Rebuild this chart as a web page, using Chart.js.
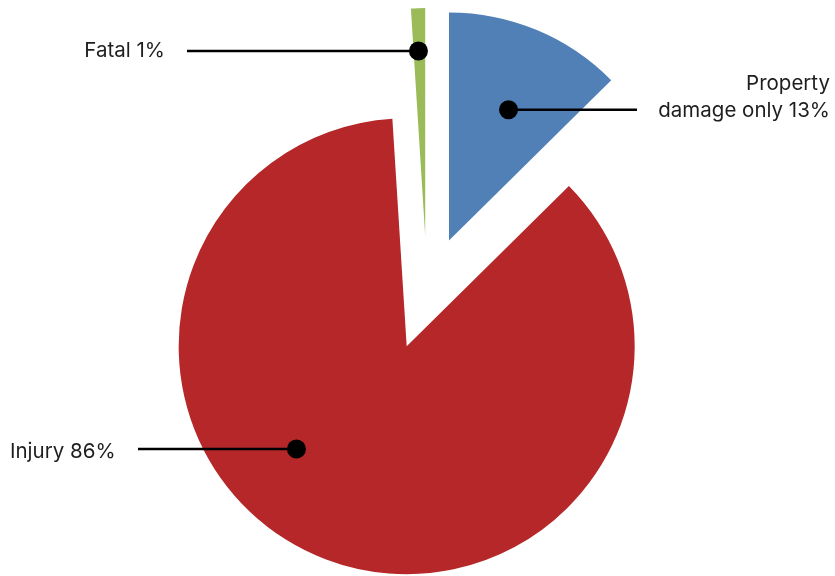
<!DOCTYPE html>
<html>
<head>
<meta charset="utf-8">
<script src="https://cdn.jsdelivr.net/npm/chart.js@4.4.1/dist/chart.umd.min.js"></script>
<style>
  html, body { margin: 0; padding: 0; background: #fff; }
  #wrap { width: 835px; height: 576px; position: relative; }
</style>
</head>
<body>
<div id="wrap"><canvas id="pieChart"></canvas></div>
<script>
// crash severity shares, percent
const categories = [['Property', 'damage only'], ['Injury'], ['Fatal']];
const shares = [12.6, 86.4, 1.0];
const colors = ['#5180B7', '#B52728', '#9BBB59'];

// every slice pulled out of the centre by the same distance
const explode = 57;

// where each leader dot sits inside its slice (fraction of sweep, fraction of radius)
const dotSpots = [
    { t: 0.54, r: 0.63 },
    { t: 0.584, r: 0.661 },
    { t: 0.42, r: 0.812 }
];
// leader line end + label placement
const labelSpots = [
    { lineTo: 637, x: 830, align: 'right', dy: [-20, 7] },
    { lineTo: 138, x: 10, align: 'left', dy: [9] },
    { lineTo: 187, x: 165, align: 'right', dy: [6] }
];

const baseArcDraw = Chart.ArcElement.prototype.draw;
Chart.ArcElement.prototype.draw = function (ctx) {
    const d = this.explode || 0;
    const mid = (this.startAngle + this.endAngle) / 2;
    ctx.save();
    ctx.translate(Math.cos(mid) * d, Math.sin(mid) * d);
    baseArcDraw.call(this, ctx);
    ctx.restore();
};

const leaderLabels = {
    id: 'leaderLabels',
    beforeDatasetsDraw(chart) {
        chart.getDatasetMeta(0).data.forEach(arc => { arc.explode = explode; });
    },
    afterDatasetsDraw(chart) {
        const ctx = chart.ctx;
        chart.getDatasetMeta(0).data.forEach((arc, i) => {
            const p = arc.getProps(['x', 'y', 'startAngle', 'endAngle', 'outerRadius']);
            const mid = (p.startAngle + p.endAngle) / 2;
            const ax = p.x + Math.cos(mid) * explode;
            const ay = p.y + Math.sin(mid) * explode;
            const a = p.startAngle + dotSpots[i].t * (p.endAngle - p.startAngle);
            const dx = ax + Math.cos(a) * p.outerRadius * dotSpots[i].r;
            const dy = ay + Math.sin(a) * p.outerRadius * dotSpots[i].r;
            const spot = labelSpots[i];

            ctx.save();
            ctx.strokeStyle = '#000';
            ctx.lineWidth = 2.5;
            ctx.beginPath();
            ctx.moveTo(dx, dy);
            ctx.lineTo(spot.lineTo, dy);
            ctx.stroke();
            ctx.fillStyle = '#000';
            ctx.beginPath();
            ctx.arc(dx, dy, 9.5, 0, Math.PI * 2);
            ctx.fill();

            const lines = categories[i].slice();
            lines[lines.length - 1] += ' ' + Math.round(shares[i]) + '%';
            ctx.fillStyle = '#1e1e1e';
            ctx.font = '20.5px Inter';
            ctx.textAlign = spot.align;
            ctx.textBaseline = 'alphabetic';
            lines.forEach((txt, k) => ctx.fillText(txt, spot.x, dy + spot.dy[k]));
            ctx.restore();
        });
    }
};

new Chart(document.getElementById('pieChart').getContext('2d'), {
    type: 'pie',
    data: {
        labels: categories.map(c => c.join(' ')),
        datasets: [{
            data: shares,
            backgroundColor: colors,
            borderWidth: 0,
            hoverOffset: 0
        }]
    },
    options: {
        responsive: true,
        maintainAspectRatio: false,
        animation: false,
        layout: { padding: { top: 65, bottom: 55, left: 127, right: 108 } },
        plugins: {
            legend: { display: false },
            tooltip: { enabled: false }
        }
    },
    plugins: [leaderLabels]
});
</script>
</body>
</html>
